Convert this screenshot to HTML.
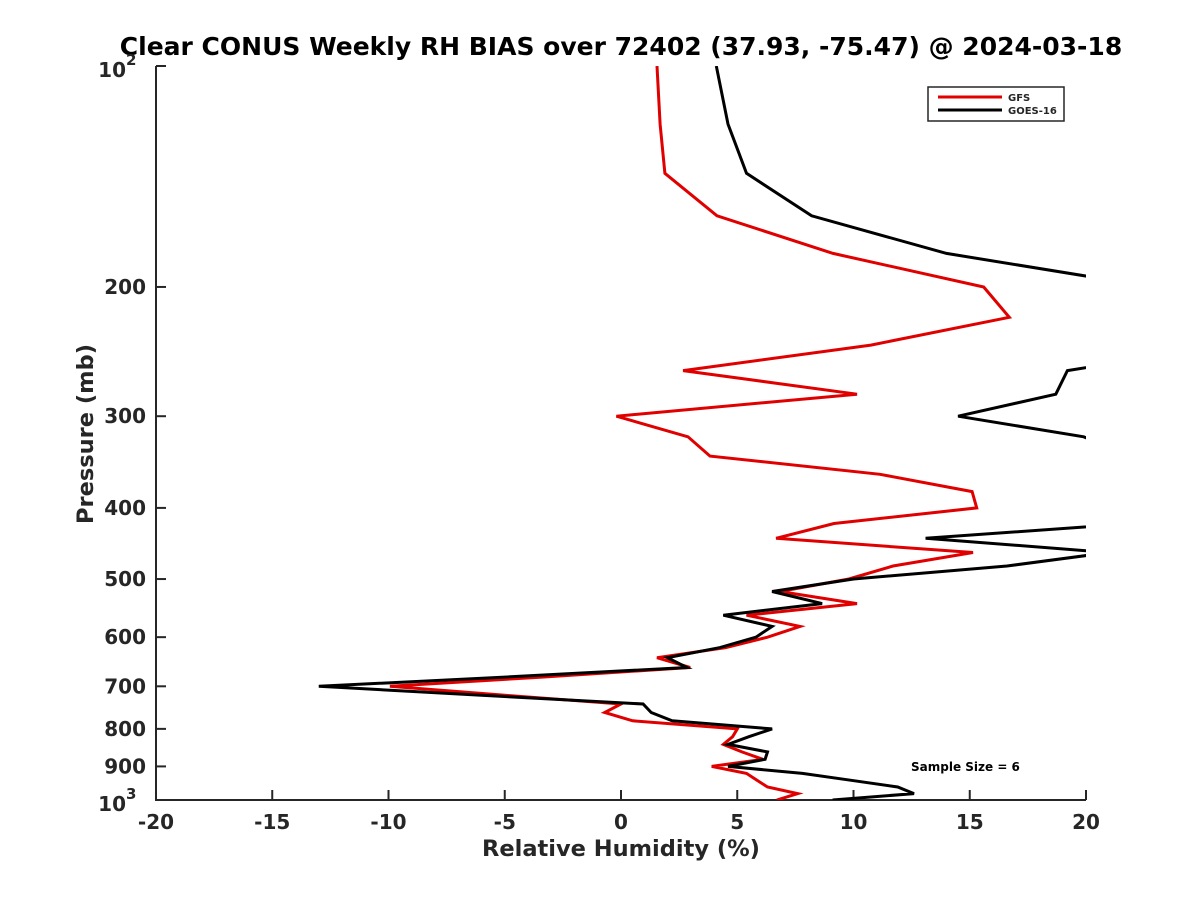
<!DOCTYPE html>
<html><head><meta charset="utf-8"><style>
body{margin:0;background:#fff;}
svg text{font-family:"DejaVu Sans","Liberation Sans",sans-serif;font-weight:bold;fill:#262626;}
</style></head><body>
<svg id="chart" width="1200" height="900" xmlns="http://www.w3.org/2000/svg">
<defs><clipPath id="plotclip"><rect x="156" y="66" width="930" height="734"/></clipPath></defs>
<text x="621" y="55" font-size="25" text-anchor="middle" style="fill:#000">Clear CONUS Weekly RH BIAS over 72402 (37.93, -75.47) @ 2024-03-18</text>
<g id="axes"></g>
<g id="series" clip-path="url(#plotclip)"></g>
<text x="621" y="856" font-size="22.5" text-anchor="middle">Relative Humidity (%)</text>
<text transform="translate(93,434) rotate(-90)" font-size="22.5" text-anchor="middle">Pressure (mb)</text>
<g>
<rect x="928" y="87" width="136" height="34" fill="#fff" stroke="#262626" stroke-width="1.5"/>
<line x1="938" y1="97" x2="1002" y2="97" stroke="#e00000" stroke-width="3"/>
<text x="1008" y="101" font-size="10">GFS</text>
<line x1="938" y1="110" x2="1002" y2="110" stroke="#000" stroke-width="3"/>
<text x="1008" y="114" font-size="10">GOES-16</text>
</g>
<text x="911" y="771" font-size="12" style="fill:#000">Sample Size = 6</text>
</svg>
<script>
const pressures=[100,120,140,160,180,200,220,240,260,280,300,320,340,360,380,400,420,440,460,480,500,520,540,560,580,600,620,640,660,680,700,720,740,760,780,800,820,840,860,880,900,920,940,960,980,1000];
const gfsValues=[1.55,1.68,1.89,4.13,9.12,15.6,16.7,10.75,2.67,10.15,-0.2,2.88,3.83,11.14,15.1,15.3,9.16,6.67,15.14,11.7,9.8,6.84,10.15,5.4,7.7,6.3,4.5,1.55,2.97,-3.4,-9.94,-5,0.0,-0.7,0.5,5.0,4.8,4.4,5.2,6.1,3.9,5.4,5.85,6.3,7.6,6.7];
const goesValues=[4.1,4.6,5.4,8.2,14.0,22.9,30,26,19.2,18.7,14.5,19.9,22,25,25,25,22,13.1,21,16.6,10.0,6.5,8.65,4.4,6.5,5.8,4.26,2.0,2.84,-5,-13.0,-6,0.95,1.3,2.2,6.5,5.5,4.6,6.3,6.2,4.6,7.8,9.9,11.9,12.6,9.1];
const xTicks=[-20,-15,-10,-5,0,5,10,15,20];
const yTicks=[100,200,300,400,500,600,700,800,900,1000];
const yTickLabels=["10²","200","300","400","500","600","700","800","900","10³"];
const NS="http://www.w3.org/2000/svg";
const X0=156,X1=1086,Y0=66,Y1=800;
function xs(v){return X0+(v+20)/40*(X1-X0);}
function ys(p){return Y0+Math.log10(p/100)*(Y1-Y0);}
function mk(tag,attrs,parent){const e=document.createElementNS(NS,tag);for(const k in attrs)e.setAttribute(k,attrs[k]);parent.appendChild(e);return e;}
const axes=document.getElementById('axes');
const yAxis=mk('line',{x1:X0,y1:Y0,x2:X0,y2:Y1,stroke:'#262626','stroke-width':2},axes);


const xAxis=mk('line',{x1:X0-1,y1:Y1,x2:X1,y2:Y1,stroke:'#262626','stroke-width':2},axes);


xTicks.forEach(v=>{
  const t=mk('line',{x1:xs(v),y1:Y1,x2:xs(v),y2:Y1-10,stroke:'#262626','stroke-width':2},axes);
  
  
  const l=mk('text',{x:xs(v),y:Y1+29,'font-size':20,'text-anchor':'middle'},axes);
  l.textContent=String(v);
  
  
});
yTicks.forEach((p,i)=>{
  const t=mk('line',{x1:X0,y1:ys(p),x2:X0+10,y2:ys(p),stroke:'#262626','stroke-width':2},axes);
  
  
  const lab=yTickLabels[i];
  const l=mk('text',{x:X0-10,y:ys(p)+7,'font-size':20,'text-anchor':'end'},axes);
  
  
  if(lab.length===3&&(lab[2]==='²'||lab[2]==='³')){
    l.setAttribute('y',ys(p)+11);
    l.setAttribute('x',X0-30);
    l.textContent='10';
    const s=mk('text',{x:X0-30,y:ys(p)-1,'font-size':15},axes);
    s.textContent=lab[2]==='²'?'2':'3';
    
    
  } else l.textContent=lab;
});
const series=document.getElementById('series');
function draw(vals,color,name){
  const pts=pressures.map((p,i)=>xs(vals[i]).toFixed(1)+','+ys(p).toFixed(1)).join(' ');
  const pl=mk('polyline',{points:pts,fill:'none',stroke:color,'stroke-width':3,'stroke-linejoin':'miter'},series);
  
  
}
draw(gfsValues,'#e00000','gfs-line');
draw(goesValues,'#000','goes16-line');
</script>
</body></html>
